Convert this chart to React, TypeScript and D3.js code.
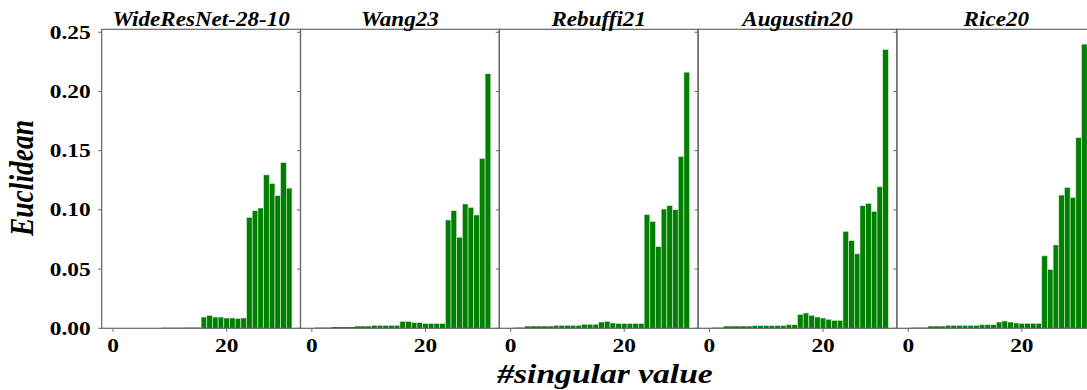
import { useEffect, useRef } from "react";
import * as d3 from "d3";

// Per-model bar heights, one per singular value index (0..31)
const wideResNet = [
  0, 0, 0, 0, 0, 0, 0, 0, 0, 0.0005, 0.0005, 0.0005, 0.0005, 0.0006, 0.0006, 0.0006,
  0.0095, 0.0109, 0.0095, 0.0095, 0.0087, 0.0087, 0.0082, 0.0087,
  0.0937, 0.0993, 0.1016, 0.1296, 0.1223, 0.112, 0.14, 0.1184,
];
const wang23 = [
  0.0003, 0.0006, 0.0006, 0.0006, 0.0011, 0.0011, 0.0011, 0.0011, 0.0017, 0.0017, 0.0017, 0.0025, 0.0025, 0.0025, 0.0025, 0.0025,
  0.0059, 0.0059, 0.0048, 0.0048, 0.004, 0.004, 0.004, 0.004,
  0.0915, 0.0993, 0.0769, 0.105, 0.1021, 0.0957, 0.1434, 0.215,
];
const rebuffi21 = [
  0.0003, 0.0006, 0.0006, 0.0017, 0.0017, 0.0017, 0.0017, 0.0017, 0.0025, 0.0025, 0.0025, 0.0025, 0.0025, 0.0034, 0.0034, 0.0034,
  0.0053, 0.0059, 0.0045, 0.004, 0.004, 0.004, 0.004, 0.004,
  0.096, 0.0903, 0.069, 0.1007, 0.1035, 0.1001, 0.145, 0.2163,
];
const augustin20 = [
  0.0003, 0.0006, 0.0006, 0.0017, 0.0017, 0.0017, 0.0017, 0.0017, 0.0022, 0.0022, 0.0022, 0.0022, 0.0022, 0.0022, 0.003, 0.003,
  0.0118, 0.0129, 0.0109, 0.0095, 0.0087, 0.0076, 0.0067, 0.0067,
  0.0819, 0.074, 0.0629, 0.1035, 0.1055, 0.0988, 0.1195, 0.2354,
];
const rice20 = [
  0.0003, 0.0006, 0.0006, 0.0006, 0.0017, 0.0017, 0.0017, 0.0025, 0.0025, 0.0025, 0.0025, 0.0025, 0.0025, 0.003, 0.003, 0.003,
  0.0053, 0.0062, 0.0053, 0.0045, 0.0042, 0.0042, 0.0042, 0.0042,
  0.0612, 0.0497, 0.0704, 0.1125, 0.119, 0.1105, 0.161, 0.24,
];

const titles = ["WideResNet-28-10", "Wang23", "Rebuffi21", "Augustin20", "Rice20"];
const series = [wideResNet, wang23, rebuffi21, augustin20, rice20];
const yTicks = [0, 0.05, 0.1, 0.15, 0.2, 0.25];
const xTicks = [0, 20];

const FONT = "'Liberation Serif', 'Times New Roman', serif";

export default function App() {
  const svgRef = useRef<SVGSVGElement>(null);

  useEffect(() => {
    if (!svgRef.current) return;
    const width = 1087;
    const height = 390;
    const left0 = 101.7;
    const panelW = 198.8;
    const top = 29.3;
    const bottom = 328.3;
    const spine = "#666";

    const svg = d3.select(svgRef.current);
    svg.selectAll("*").remove();
    svg.attr("width", width).attr("height", height);

    const y = d3.scaleLinear().domain([0, 0.2525]).range([bottom, top]);
    const x = d3.scaleLinear().domain([-2, 33]);

    series.forEach((values, p) => {
      const x0 = left0 + p * panelW;
      x.range([x0, x0 + panelW]);
      const g = svg.append("g");

      // bars
      g.selectAll("rect")
        .data(values)
        .enter()
        .append("rect")
        .attr("x", (_, i) => x(i - 0.5))
        .attr("width", x(0.5) - x(-0.5))
        .attr("y", (d) => y(d))
        .attr("height", (d) => y(0) - y(d))
        .attr("fill", "#008000")
        .attr("stroke", "#d9ecd9")
        .attr("stroke-width", (d) => (d > 0.002 ? 0.6 : 0));

      // frame
      g.append("rect")
        .attr("x", x0)
        .attr("y", top)
        .attr("width", panelW)
        .attr("height", bottom - top)
        .attr("fill", "none")
        .attr("stroke", spine)
        .attr("stroke-width", 1.2);

      // y ticks (labels only on first panel)
      yTicks.forEach((t) => {
        g.append("line")
          .attr("x1", x0 - 3.5)
          .attr("x2", x0)
          .attr("y1", y(t))
          .attr("y2", y(t))
          .attr("stroke", spine)
          .attr("stroke-width", 1);
        if (p === 0) {
          g.append("text")
            .attr("transform", `translate(${x0 - 11},${y(t) + 6.5}) scale(1.2,1)`)
            .attr("text-anchor", "end")
            .attr("font-family", FONT)
            .attr("font-weight", "bold")
            .attr("font-size", 19.5)
            .text(d3.format(".2f")(t));
        }
      });

      // x ticks
      xTicks.forEach((t) => {
        g.append("line")
          .attr("x1", x(t))
          .attr("x2", x(t))
          .attr("y1", bottom)
          .attr("y2", bottom + 3.5)
          .attr("stroke", spine)
          .attr("stroke-width", 1);
        g.append("text")
          .attr("transform", `translate(${x(t)},${bottom + 23.5}) scale(1.2,1)`)
          .attr("text-anchor", "middle")
          .attr("font-family", FONT)
          .attr("font-weight", "bold")
          .attr("font-size", 19.5)
          .text(String(t));
      });

      // title
      g.append("text")
        .attr("transform", `translate(${x0 + panelW / 2},26) scale(1.1,1)`)
        .attr("text-anchor", "middle")
        .attr("font-family", FONT)
        .attr("font-weight", "bold")
        .attr("font-style", "italic")
        .attr("font-size", 21)
        .text(titles[p]);
    });

    // axis labels
    svg.append("text")
      .attr("transform", `translate(605,383) scale(1.2,1)`)
      .attr("text-anchor", "middle")
      .attr("font-family", FONT)
      .attr("font-weight", "bold")
      .attr("font-style", "italic")
      .attr("font-size", 28)
      .text("#singular value");

    svg.append("text")
      .attr("transform", `translate(33,178) rotate(-90) scale(1,1.2)`)
      .attr("text-anchor", "middle")
      .attr("font-family", FONT)
      .attr("font-weight", "bold")
      .attr("font-style", "italic")
      .attr("font-size", 27.5)
      .text("Euclidean");
  }, []);

  return (
    <div style={{ position: "absolute", left: 0, top: 0, width: 1087, height: 390, overflow: "hidden", background: "#fff" }}>
      <svg ref={svgRef} style={{ display: "block" }} />
    </div>
  );
}
